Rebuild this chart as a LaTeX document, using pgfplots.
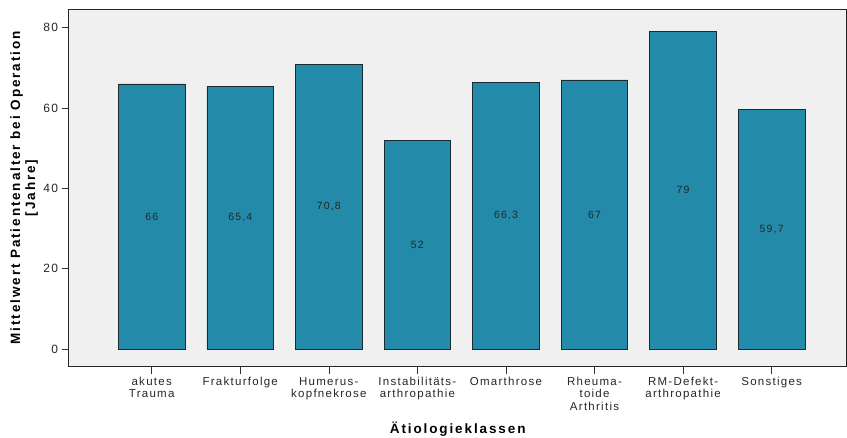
\documentclass[border=0pt]{standalone}
\usepackage{fontspec}
\setmainfont{Liberation Sans}[LetterSpace=11]
\newfontfamily\labelfont{Liberation Sans}[LetterSpace=14]
\usepackage{pgfplots}
\usepackage{pgfplotstable}
\pgfplotsset{compat=1.18}

\definecolor{barblue}{RGB}{36,138,170}
\definecolor{baredge}{RGB}{30,42,50}
\definecolor{panelgray}{RGB}{240,240,240}

% Mean age at operation per aetiology class
\pgfplotstableread{
pos v
0 66
1 65.4
2 70.8
3 52
4 66.3
5 67
6 79
7 59.7
}\agedata

\begin{document}
\begin{tikzpicture}
\useasboundingbox (-68.7pt,-70.3pt) rectangle (778.3pt,366.7pt);
\begin{axis}[
  at={(0pt,0pt)}, anchor=south west,
  scale only axis,
  width=778pt, height=357.7pt,
  xmin=-0.937, xmax=7.847,
  ymin=-4.4, ymax=84.66,
  axis background/.style={fill=panelgray},
  axis line style={draw=black!85, line width=0.9pt},
  tick align=outside,
  xtick pos=bottom, ytick pos=left,
  major tick length=7pt,
  tick style={black!80, line width=0.6pt},
  xtick={0,...,7},
  xticklabels={{akutes\\Trauma},{Frakturfolge},{Humerus-\\kopfnekrose},{Instabilitäts-\\arthropathie},{Omarthrose},{Rheuma-\\toide\\Arthritis},{RM-Defekt-\\arthropathie},{Sonstiges}},
  xticklabel style={align=center, font=\fontsize{11.5}{12.3}\selectfont, text=black!85},
  ytick={0,20,40,60,80},
  yticklabel style={font=\fontsize{12}{14}\selectfont, text=black!85},
  /pgf/number format/assume math mode=true,
  every axis y label/.style={at={([xshift=-44.5pt]axis description cs:0,0.5)}, rotate=90, anchor=center, align=center, font=\labelfont\bfseries\fontsize{13.5}{15}\selectfont},
  ylabel={Mittelwert Patientenalter bei Operation\\{[Jahre]}},
  every axis x label/.style={at={([yshift=-62.3pt]axis description cs:0.5,0)}, anchor=center, font=\labelfont\bfseries\fontsize{13.5}{15}\selectfont},
  xlabel={Ätiologieklassen},
]
\addplot[ybar, bar width=0.753, fill=barblue, draw=baredge, line width=0.8pt]
  table[x=pos, y=v]{\agedata};
\addplot[draw=none, mark=none,
  nodes near coords, point meta=explicit,
  nodes near coords style={anchor=center, font=\fontsize{10.5}{12}\selectfont, text=black!85,
    /pgf/number format/use comma}]
  table[x=pos, y expr=\thisrow{v}/2, meta=v]{\agedata};
\end{axis}
\end{tikzpicture}
\end{document}
